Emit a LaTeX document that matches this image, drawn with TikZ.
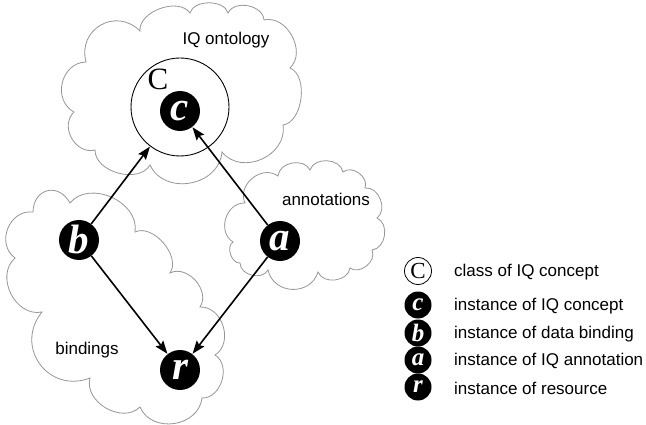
\documentclass[tikz,border=0pt]{standalone}
\usepackage{fontspec}
\setmainfont{Liberation Sans}
\newfontfamily\tnr{Liberation Serif}
\usetikzlibrary{arrows.meta}
\definecolor{cloudgray}{RGB}{150,150,150}
\tikzset{
  puff/.style={bend left=75, looseness=#1},
  puff/.default=1.1,
  cloudline/.style={draw=cloudgray, line width=0.8pt, fill=white},
  inst/.style={circle, fill=black, text=white, minimum size=40pt, inner sep=0pt,
     font=\tnr\bfseries\itshape\fontsize{41}{41}\selectfont},
  leginst/.style={circle, fill=black, text=white, minimum size=27pt, inner sep=0pt,
     font=\tnr\bfseries\itshape\fontsize{25}{25}\selectfont},
  legclass/.style={circle, draw=black, line width=0.8pt, minimum size=27pt, inner sep=0pt,
     font=\tnr\fontsize{23}{23}\selectfont},
  lbl/.style={font=\fontsize{17}{20}\selectfont, inner sep=0pt},
  legtext/.style={font=\fontsize{17}{20}\selectfont, inner sep=0pt, anchor=west},
  arr/.style={-{Stealth[length=13pt, width=9.5pt, inset=2pt]}, line width=1.6pt, shorten >=0.3pt}
}
\begin{document}
\begin{tikzpicture}[x=1pt, y=-1pt]
\useasboundingbox (0,0) rectangle (646,425);
% ontology cloud
\draw[cloudline] (86,62) to[puff=1.4] (140,31) to[puff=0.95] (190,13) to[puff=0.95] (228,13)
  to[puff=1.05] (264,20) to[puff=1.1] (290,68) to[puff=0.9] (283,125) to[puff=1.2] (222,152)
  to[puff=1.2] (150,165) to[puff=1.0] (95,150) to[puff=1.2] (74,112) to[puff=1.25] (86,62) -- cycle;
% bindings cloud
\draw[cloudline] (33,212) to[puff=1.6] (70,203) to[puff=1.1] (135,232) to[puff=0.95] (170,273)
  to[puff=1.1] (200,307) to[puff=1.15] (215,355) to[puff=1.1] (202,398) to[puff=1.2] (140,407)
  to[puff=1.1] (90,378) to[puff=1.4] (42,312) to[puff=1.15] (15,258) to[puff=1.25] (33,212) -- cycle;
% annotations cloud
\draw[cloudline] (233,242) to[puff=1.2] (245,203) to[puff=1.2] (278,176) to[puff=1.1] (310,170)
  to[puff=1.1] (343,172) to[puff=1.1] (365,188) to[puff=1.1] (377,218) to[puff=1.1] (372,250)
  to[puff=1.1] (350,268) to[puff=1.1] (318,272) to[puff=1.3] (268,270) to[puff=1.1] (240,263)
  to[puff=1.0] (233,242) -- cycle;
% labels
\node[lbl] (lont) at (226,40) {IQ ontology};
\node[lbl] (lann) at (326,199) {annotations};
\node[lbl] (lbind) at (87,350) {bindings};
% class circle
\node[circle, draw=black, line width=0.9pt, minimum size=98pt, inner sep=0pt] (C) at (180,107) {};
\node[font=\tnr\fontsize{31}{31}\selectfont, inner sep=0pt] (Clabel) at (158,79) {C};
% instances
\node[inst] (c) at (180,111) {c};
\node[inst] (b) at (79,240) {b};
\node[inst] (a) at (280,241) {a};
\node[inst] (r) at (180,370) {r};
% connectors
\draw[arr] (b) -- (C);
\draw[arr] (a) -- (c);
\draw[arr] (b) -- (r);
\draw[arr] (a) -- (r);
% legend
\node[legclass] (kC) at (418,271) {C};
\node[leginst] (kc) at (418,305) {c};
\node[leginst] (kb) at (418,333) {b};
\node[leginst] (ka) at (418,360) {a};
\node[leginst] (kr) at (418,387) {r};
\node[legtext] (tC) at (454,272) {class of IQ concept};
\node[legtext] (tc) at (454,306) {instance of IQ concept};
\node[legtext] (tb) at (454,334) {instance of data binding};
\node[legtext] (ta) at (454,361) {instance of IQ annotation};
\node[legtext] (tr) at (454,388) {instance of resource};
\end{tikzpicture}
\end{document}
